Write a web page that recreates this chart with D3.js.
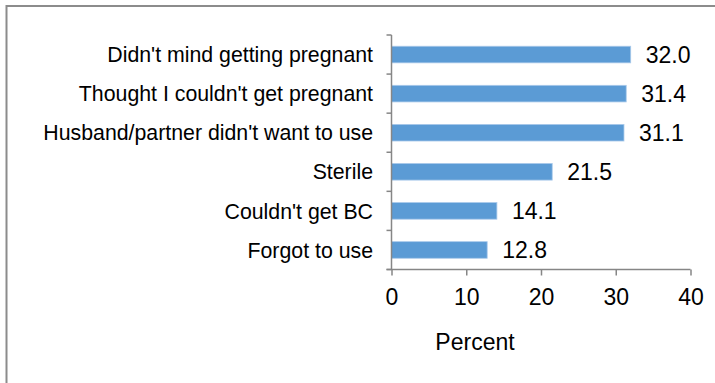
<!DOCTYPE html>
<html>
<head>
<meta charset="utf-8">
<script src="https://cdn.jsdelivr.net/npm/d3@7"></script>
<style>
  html, body { margin: 0; padding: 0; background: #fff; }
  svg { display: block; font-family: Arial, "Liberation Sans", sans-serif; }
</style>
</head>
<body>
<svg id="chart" width="715" height="383"></svg>
<script>
// Reasons for not using birth control (percent)
const reasons = [
  "Didn't mind getting pregnant",
  "Thought I couldn't get pregnant",
  "Husband/partner didn't want to use",
  "Sterile",
  "Couldn't get BC",
  "Forgot to use"
];
const percents = [32.0, 31.4, 31.1, 21.5, 14.1, 12.8];
const xTicks = [0, 10, 20, 30, 40];
const axisTitle = "Percent";

const svg = d3.select("#chart");

// Outer frame (runs off the right and bottom edges)
svg.append("rect")
  .attr("x", 6.5).attr("y", 6)
  .attr("width", 760).attr("height", 420)
  .attr("fill", "none")
  .attr("stroke", "#8c8c8c")
  .attr("stroke-width", 2);

const x = d3.scaleLinear().domain([0, 40]).range([391.5, 690.5]);
const y = d3.scaleBand().domain(reasons).range([35, 269.5]).paddingInner(0.575).paddingOuter(0.2875);
const yEdges = d3.scaleBand().domain(reasons).range([35, 269.5]);

const axisColor = "#868686";

// Bars
svg.append("g").selectAll("rect")
  .data(reasons)
  .join("rect")
  .attr("x", x(0))
  .attr("y", d => y(d))
  .attr("width", (d, i) => x(percents[i]) - x(0))
  .attr("height", y.bandwidth())
  .attr("fill", "#5b9bd5")
  .attr("stroke", "#a9c9ea")
  .attr("stroke-width", 0.8);

// Value labels
svg.append("g").selectAll("text")
  .data(reasons)
  .join("text")
  .attr("x", (d, i) => x(percents[i]) + 15)
  .attr("y", d => y(d) + y.bandwidth() / 2)
  .attr("dy", "0.36em")
  .attr("font-size", 23)
  .attr("fill", "#000")
  .text((d, i) => percents[i].toFixed(1));

// Category axis: line with ticks on the band boundaries
const gy = svg.append("g");
gy.append("line")
  .attr("x1", x(0)).attr("x2", x(0))
  .attr("y1", 35).attr("y2", 269.5)
  .attr("stroke", axisColor).attr("stroke-width", 1.5);
const boundaries = reasons.map(d => yEdges(d)).concat([269.5]);
gy.selectAll("line.tick")
  .data(boundaries)
  .join("line")
  .attr("class", "tick")
  .attr("x1", x(0) - 5).attr("x2", x(0))
  .attr("y1", d => d).attr("y2", d => d)
  .attr("stroke", axisColor).attr("stroke-width", 1.5);
gy.selectAll("text")
  .data(reasons)
  .join("text")
  .attr("x", 373)
  .attr("y", d => yEdges(d) + yEdges.bandwidth() / 2)
  .attr("dy", "0.36em")
  .attr("text-anchor", "end")
  .attr("font-size", 21.3)
  .attr("fill", "#000")
  .text(d => d);

// Value axis
const gx = svg.append("g")
  .attr("transform", "translate(0,269.5)")
  .call(d3.axisBottom(x).tickValues(xTicks).tickSize(6).tickSizeOuter(0).tickPadding(13).tickFormat(d3.format("d")));
gx.select(".domain").attr("stroke", axisColor).attr("stroke-width", 1.5).attr("d", `M${x(0) - 5},0H${x(40)}`);
gx.selectAll(".tick line").attr("stroke", axisColor).attr("stroke-width", 1.5);
gx.selectAll(".tick text")
  .attr("font-size", 23)
  .attr("font-family", "Arial, 'Liberation Sans', sans-serif")
  .attr("fill", "#000");

// Axis title
svg.append("text")
  .attr("x", 475)
  .attr("y", 350)
  .attr("text-anchor", "middle")
  .attr("font-size", 23)
  .attr("fill", "#000")
  .text(axisTitle);
</script>
</body>
</html>
